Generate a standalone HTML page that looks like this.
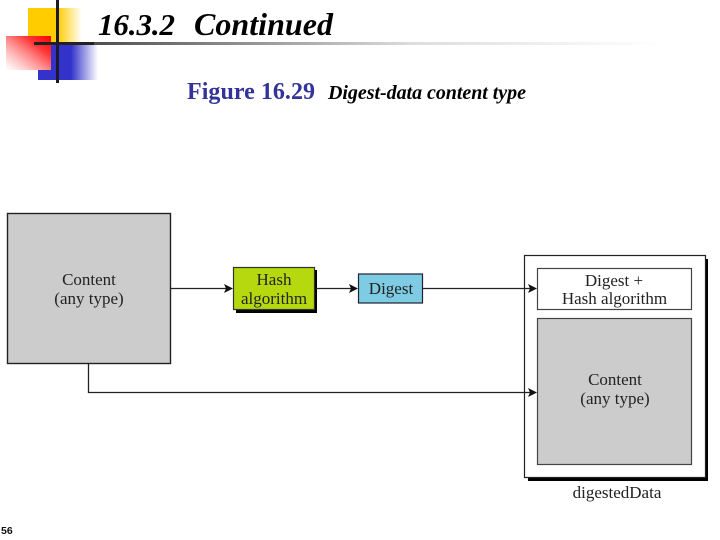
<!DOCTYPE html>
<html><head><meta charset="utf-8"><style>
html,body{margin:0;padding:0;background:#fff}
body{width:720px;height:540px;overflow:hidden;position:relative}
svg{position:absolute;left:0;top:0}
</style></head><body>
<svg width="720" height="540" viewBox="0 0 720 540" xmlns="http://www.w3.org/2000/svg">
<defs>
<linearGradient id="y" x1="0" x2="1" y1="0" y2="0"><stop offset="0" stop-color="#ffcc00"/><stop offset=".55" stop-color="#ffcc00"/><stop offset="1" stop-color="#ffcc00" stop-opacity="0"/></linearGradient>
<linearGradient id="b" x1="0" x2="1" y1="0" y2="0"><stop offset="0" stop-color="#3333cc"/><stop offset=".55" stop-color="#3333cc"/><stop offset="1" stop-color="#3333cc" stop-opacity="0"/></linearGradient>
<linearGradient id="r" x1="1" x2="0" y1="0" y2="1"><stop offset="0" stop-color="#ff0000"/><stop offset=".3" stop-color="#ff3838"/><stop offset="1" stop-color="#ff8080" stop-opacity="0"/></linearGradient>
<linearGradient id="l" x1="0" x2="1" y1="0" y2="0"><stop offset="0" stop-color="#333"/><stop offset=".3" stop-color="#888"/><stop offset=".6" stop-color="#ddd"/><stop offset="1" stop-color="#fff"/></linearGradient>
</defs>
<rect x="28" y="8" width="54" height="42" fill="url(#y)"/>
<rect x="38" y="44" width="60" height="36" fill="url(#b)"/>
<rect x="6" y="36" width="45" height="34" fill="#fff"/>
<rect x="6" y="36" width="45" height="34" fill="url(#r)"/>
<rect x="34" y="42" width="630" height="3" fill="url(#l)"/>
<rect x="34" y="42" width="60" height="3" fill="#222"/>
<rect x="56" y="0" width="3" height="83" fill="#1a1a2a"/>
<text x="98" y="35" font-family="Liberation Serif" font-style="italic" font-weight="bold" font-size="31" fill="#000" textLength="77" lengthAdjust="spacing">16.3.2</text>
<text x="194" y="35" font-family="Liberation Serif" font-style="italic" font-weight="bold" font-size="32" fill="#000" textLength="139" lengthAdjust="spacing">Continued</text>
<text x="187" y="99" font-family="Liberation Serif" font-weight="bold" font-size="24" fill="#333399" textLength="128" lengthAdjust="spacing">Figure 16.29</text>
<text x="328" y="99" font-family="Liberation Serif" font-style="italic" font-weight="bold" font-size="20" fill="#000" textLength="198" lengthAdjust="spacing">Digest-data content type</text>

<rect x="7.5" y="213.5" width="163" height="150" fill="#cccccc" stroke="#222" stroke-width="1.4"/>
<text font-family="Liberation Serif" font-size="17" fill="#222" text-anchor="middle"><tspan x="89" y="285">Content</tspan><tspan x="89" y="304">(any type)</tspan></text>

<rect x="236" y="270" width="81" height="43" fill="#000"/>
<rect x="233.5" y="267.5" width="81" height="42" fill="#b5d90e" stroke="#333" stroke-width="1.2"/>
<text font-family="Liberation Serif" font-size="17" fill="#222" text-anchor="middle"><tspan x="274" y="285">Hash</tspan><tspan x="274" y="304">algorithm</tspan></text>

<rect x="358.5" y="274" width="64" height="29" fill="#7ecbe4" stroke="#223" stroke-width="1.2"/>
<text x="391" y="294" font-family="Liberation Serif" font-size="17" fill="#222" text-anchor="middle">Digest</text>

<rect x="528" y="259" width="180" height="222" fill="#000"/>
<rect x="524.5" y="255.5" width="181" height="222" fill="#fff" stroke="#222" stroke-width="1.2"/>
<rect x="537.5" y="268.5" width="154" height="41" fill="#fff" stroke="#444" stroke-width="1.2"/>
<text font-family="Liberation Serif" font-size="17" fill="#222" text-anchor="middle"><tspan x="614" y="286">Digest +</tspan><tspan x="614.5" y="304">Hash algorithm</tspan></text>
<rect x="537.5" y="318.5" width="154" height="146" fill="#cccccc" stroke="#444" stroke-width="1.2"/>
<text font-family="Liberation Serif" font-size="17" fill="#222" text-anchor="middle"><tspan x="615" y="385">Content</tspan><tspan x="615" y="404">(any type)</tspan></text>
<text x="617" y="498" font-family="Liberation Serif" font-size="17" fill="#222" text-anchor="middle">digestedData</text>

<g stroke="#222" stroke-width="1.3" fill="none">
<path d="M171 288.5H226"/>
<path d="M316 288.5H352"/>
<path d="M423 288.5H530"/>
<path d="M88.5 364V392.5H530"/>
</g>
<g fill="#111">
<path d="M224 284L233 288.5L224 293L226 288.5Z"/>
<path d="M349 284L358 288.5L349 293L351 288.5Z"/>
<path d="M528 284L537 288.5L528 293L530 288.5Z"/>
<path d="M528 388L537 392.5L528 397L530 392.5Z"/>
</g>
<text x="1" y="534" font-family="Liberation Sans" font-weight="bold" font-size="10.5" fill="#111">56</text>
</svg>
</body></html>
